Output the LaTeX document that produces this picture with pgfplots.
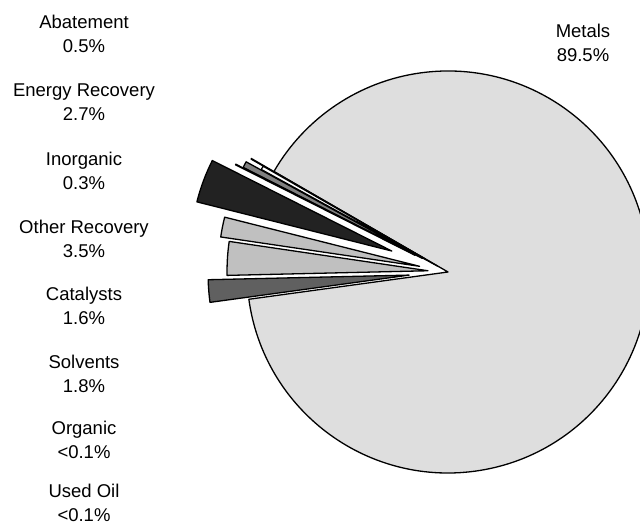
\documentclass[border=0pt]{standalone}
\usepackage{pgfplots}
\usepackage{pgfplotstable}
\pgfplotsset{compat=1.18}
\usepackage{fontspec}
\setmainfont{Liberation Sans}
\definecolor{metals}{HTML}{DEDEDE}
\definecolor{lgrey}{HTML}{C0C0C0}
\definecolor{dgrey}{HTML}{606060}
\definecolor{mgrey}{HTML}{808080}
\definecolor{ener}{HTML}{222222}
\definecolor{organ}{HTML}{505050}

% label, share (%), fill colour, explode offset (px)
\pgfplotstableread{
label value color explode
Metals 89.5 metals 0
UsedOil 0.05 black 26
Inorganic 0.3 white 12
Abatement 0.5 mgrey 29
Organic 0.05 organ 37
OtherRecovery 3.5 ener 60
Catalysts 1.6 lgrey 29
EnergyRecovery 2.7 lgrey 20
Solvents 1.8 dgrey 39
}\piedata

\begin{document}
\begin{tikzpicture}
\begin{axis}[name=ax, hide axis, scale only axis, x=1pt, y=1pt,
  xmin=0, xmax=640, ymin=0, ymax=524, clip=true]
\pgfplotsextra{%
  \xdef\cur{-172.2}%
  \foreach \i in {0,...,8}{%
    \pgfplotstablegetelem{\i}{value}\of\piedata\let\sv\pgfplotsretval
    \pgfplotstablegetelem{\i}{color}\of\piedata\let\scol\pgfplotsretval
    \pgfplotstablegetelem{\i}{explode}\of\piedata\let\sex\pgfplotsretval
    \pgfmathsetmacro\aS{\cur}%
    \pgfmathsetmacro\aE{\cur+3.6*\sv}%
    \pgfmathsetmacro\aM{(\aS+\aE)/2}%
    \pgfmathsetmacro\cx{448+\sex*cos(\aM)}%
    \pgfmathsetmacro\cy{252+\sex*sin(\aM)}%
    \pgfmathsetmacro\px{\cx+201*cos(\aS)}%
    \pgfmathsetmacro\py{\cy+201*sin(\aS)}%
    \filldraw[fill=\scol, draw=black, line width=1.3pt, line join=round]
      (axis cs:\cx,\cy) -- (axis cs:\px,\py)
      arc[start angle=\aS, end angle=\aE, radius=201pt] -- cycle;
    \xdef\cur{\aE}%
  }%
}
\begin{scope}[every node/.style={align=center, font=\fontsize{18.5}{24}\selectfont}]
\node at (axis cs:84,490) {Abatement\\0.5\%};
\node at (axis cs:84,422) {Energy Recovery\\2.7\%};
\node at (axis cs:84,353.5) {Inorganic\\0.3\%};
\node at (axis cs:84,285) {Other Recovery\\3.5\%};
\node at (axis cs:84,218) {Catalysts\\1.6\%};
\node at (axis cs:84,150) {Solvents\\1.8\%};
\node at (axis cs:84,84) {Organic\\<0.1\%};
\node at (axis cs:84,21) {Used Oil\\<0.1\%};
\node at (axis cs:583,481.5) {Metals\\89.5\%};
\end{scope}
\end{axis}
\pgfresetboundingbox
\path (ax.south west) rectangle (ax.north east);
\end{tikzpicture}
\end{document}
